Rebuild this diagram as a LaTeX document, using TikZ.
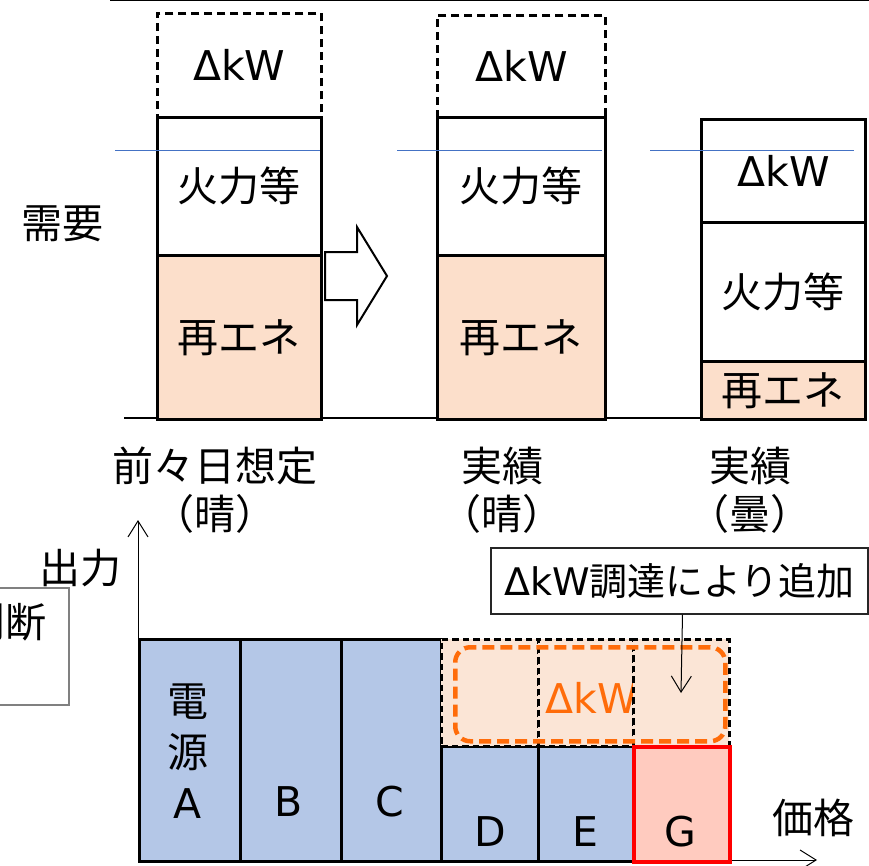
\documentclass[tikz,border=0pt]{standalone}
\usepackage{fontspec}
\setmainfont{Noto Sans CJK JP}
\newfontfamily\latn{DejaVu Sans}
\usetikzlibrary{arrows.meta}
\definecolor{rene}{HTML}{FCDFCB}
\definecolor{dkw}{HTML}{FBE5D6}
\definecolor{gen}{HTML}{B4C7E7}
\definecolor{gred}{HTML}{FFCBBF}
\definecolor{org}{HTML}{FF6C0A}
\definecolor{blu}{HTML}{4472C4}

\begin{document}
\begin{tikzpicture}[x=1pt,y=-1pt,
   jp/.style={font=\fontsize{41}{48}\selectfont},
   colbox/.style={draw,line width=2.75pt,anchor=north west,inner sep=0,jp},
   dashbox/.style={colbox,dash pattern=on 8pt off 5pt,line width=2.75pt},
   genblk/.style={draw,line width=2.5pt,fill=gen,anchor=north west,inner sep=0},
   addblk/.style={genblk,fill=dkw,dash pattern=on 6.5pt off 4pt,line width=2.5pt},
   thinarr/.style={line width=1pt,-{Straight Barb[length=16pt,width=20pt]}}]
   \useasboundingbox (0,0) rectangle (869,865);
   \clip (0,0) rectangle (869,865);
   \draw[line width=1.5pt] (110,0.5) -- (869,0.5);
   \draw[line width=1.5pt] (124,418) -- (863,418);
        \node at (156,12) [dashbox,minimum width=164,minimum height=104] (k1) {\latn ΔkW};
        \node at (156,116) [colbox,minimum width=164,minimum height=138] (f1) {火力等};
        \node at (156,254) [colbox,fill=rene,minimum width=164,minimum height=164] (r1) {再エネ};
        \node at (436,14) [dashbox,minimum width=168,minimum height=102] (k2) {\latn ΔkW};
        \node at (436,116) [colbox,minimum width=168,minimum height=138] (f2) {火力等};
        \node at (436,254) [colbox,fill=rene,minimum width=168,minimum height=164] (r2) {再エネ};
        \node at (700,118) [colbox,minimum width=164,minimum height=103] (k3) {\latn ΔkW};
        \node at (700,221) [colbox,minimum width=164,minimum height=139] (f3) {火力等};
        \node at (700,360) [colbox,fill=rene,minimum width=164,minimum height=58] (r3) {再エネ};
   \draw[blu,line width=1pt] (115,150) -- (320,150) (397,150) -- (602,150) (650,150) -- (854,150);
   \draw[line width=2pt,fill=white] (325,252) -- (357,252) -- (357,227) -- (387,276) -- (357,325) -- (357,300) -- (325,300) -- cycle;
        \node at (62,224) [jp] (dem) {需要};
        \node at (4,375) [anchor=east,inner sep=0,jp] (par) {\latn )};
        \node at (215,490) [jp,align=center] (c1) {前々日想定\\（晴）};
        \node at (502,490) [jp,align=center] (c2) {実績\\（晴）};
        \node at (750,490) [jp,align=center] (c3) {実績\\（曇）};
   \draw[gray,line width=1.5pt] (-30,588) rectangle (69,705);
        \node at (6,622) [jp] (jd) {判断};
        \node at (80,568) [jp] (out) {出力};
        \node at (813,818) [jp] (prc) {価格};
   \coordinate (o) at (138,860);
   \coordinate (ytip) at (138,520);
   \coordinate (xtip) at (817,860);
   \draw[thinarr] (o) -- (ytip);
   \draw[thinarr] (o) -- (xtip);
        \node at (138,638) [genblk,minimum width=101,minimum height=222] (a) {};
        \node at (239,638) [genblk,minimum width=101,minimum height=222] (b) {};
        \node at (340,638) [genblk,minimum width=100,minimum height=222] (c) {};
        \node at (440,745) [genblk,minimum width=97,minimum height=115] (d) {};
        \node at (537,745) [genblk,minimum width=95,minimum height=115] (e) {};
        \node at (440,638) [addblk,minimum width=97,minimum height=107] (ad) {};
        \node at (537,638) [addblk,minimum width=95,minimum height=107] (ae) {};
        \node at (592,698) [jp,text=org] (kwt) {\latn ΔkW};
        \node at (632,638) [addblk,minimum width=96,minimum height=107] (ag) {};
        \node at (453,645) [draw=org,line width=4.5pt,dash pattern=on 12pt off 6pt,rounded corners=15pt,anchor=north west,inner sep=0,minimum width=270,minimum height=94] (kw) {};
        \node at (632,745) [genblk,draw=red,fill=gred,line width=4pt,minimum width=96,minimum height=115] (g) {};
        \node at (188,751) [jp,align=center] (la) {電\\[3pt]源\\[3pt]\latn A};
        \node at (289,802) [jp] (lb) {\latn B};
        \node at (390,802) [jp] (lc) {\latn C};
        \node at (490,832) [jp] (ld) {\latn D};
        \node at (585,832) [jp] (le) {\latn E};
        \node at (680,832) [jp] (lg) {\latn G};
        \node at (679.5,581) [draw=black!85,line width=1.2pt,fill=white,font=\fontsize{38}{46}\selectfont,inner sep=0,minimum width=377,minimum height=66] (note) {{\latn ΔkW}調達により追加};
   \coordinate (ntip) at (681,693);
   \draw[thinarr] ([xshift=3pt]note.south) -- (ntip);
    \end{tikzpicture}
\end{document}
